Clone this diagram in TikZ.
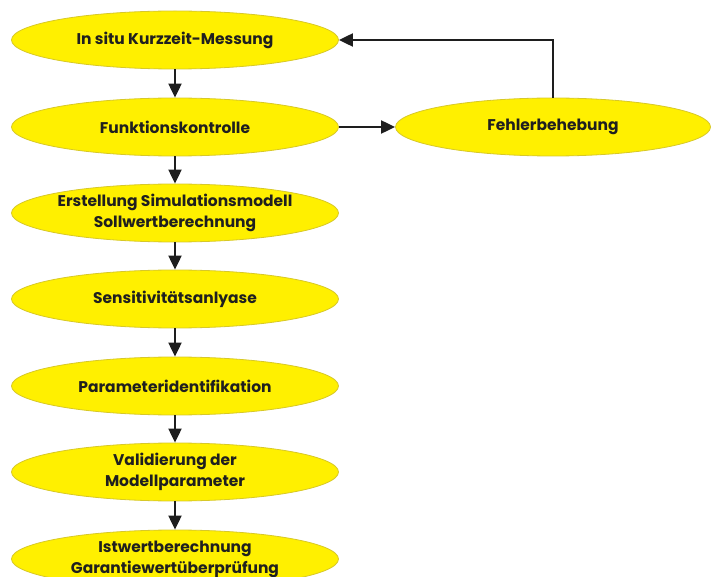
\documentclass[tikz,border=0pt]{standalone}
\usepackage{fontspec}
\setmainfont{Poppins}[UprightFont=* SemiBold, BoldFont=* Bold]
\usetikzlibrary{shapes.geometric,arrows.meta}
\definecolor{ellfill}{RGB}{255,240,0}
\definecolor{elldraw}{RGB}{215,200,40}
\definecolor{arrcol}{RGB}{30,30,30}
\tikzset{
  ell/.style={ellipse, fill=ellfill, draw=elldraw, line width=0.8pt, inner xsep=-10pt, inner ysep=0pt,
    minimum width=327pt, minimum height=58pt, align=center,
    font=\fontsize{15.5}{21}\selectfont\bfseries, text=black!88},
  conn/.style={draw=arrcol, line width=2pt, -{Triangle[width=13pt,length=14pt]}}
}
\begin{document}
\begin{tikzpicture}[x=1pt,y=-1pt]
\useasboundingbox (0,0) rectangle (712,577);
\clip (0,0) rectangle (712,577);
\node[ell] (n1) at (175,40) {In situ Kurzzeit-Messung};
\node[ell] (n2) at (175,127) {Funktionskontrolle};
\node[ell] (n3) at (175,213) {Erstellung Simulationsmodell\\Sollwertberechnung};
\node[ell] (n4) at (175,299) {Sensitivitätsanlyase};
\node[ell] (n5) at (175,386) {Parameteridentifikation};
\node[ell] (n6) at (175,472) {Validierung der\\Modellparameter};
\node[ell] (n7) at (175,559) {Istwertberechnung\\Garantiewertüberprüfung};
\node[ell, minimum width=315pt] (fb) at (553,127) {Fehlerbehebung};
\draw[conn] (n1) -- (n2);
\draw[conn] (n2) -- (n3);
\draw[conn] (n3) -- (n4);
\draw[conn] (n4) -- (n5);
\draw[conn] (n5) -- (n6);
\draw[conn] (n6) -- (n7);
\draw[conn] (n2) -- (fb);
\draw[conn] (fb.north) |- (n1.east);
\end{tikzpicture}
\end{document}
